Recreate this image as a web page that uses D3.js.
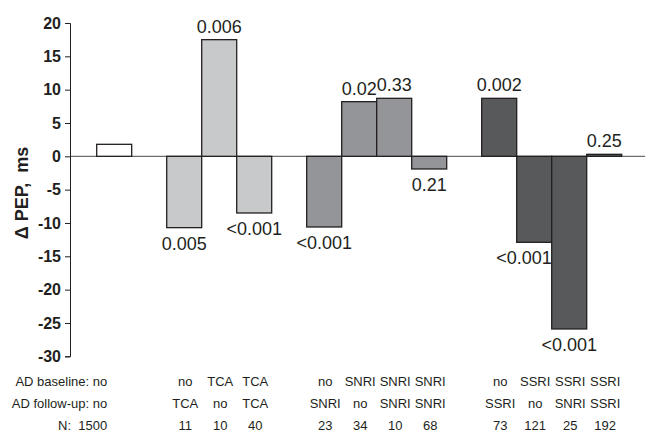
<!DOCTYPE html>
<html>
<head>
<meta charset="utf-8">
<script src="https://cdn.jsdelivr.net/npm/d3@7"></script>
<style>
  body { margin: 0; background: #fff; }
  svg { display: block; font-family: "Liberation Sans", Arial, Helvetica, sans-serif; }
</style>
</head>
<body>
<svg id="chart" width="645" height="433"></svg>
<script>
// one entry per bar, left to right
const groupOf = ['none', 'TCA', 'TCA', 'TCA', 'SNRI', 'SNRI', 'SNRI', 'SNRI', 'SSRI', 'SSRI', 'SSRI', 'SSRI'];
const adBaseline = ['no', 'no', 'TCA', 'TCA', 'no', 'SNRI', 'SNRI', 'SNRI', 'no', 'SSRI', 'SSRI', 'SSRI'];
const adFollowUp = ['no', 'TCA', 'no', 'TCA', 'SNRI', 'no', 'SNRI', 'SNRI', 'SSRI', 'no', 'SNRI', 'SSRI'];
const nCounts = ['1500', '11', '10', '40', '23', '34', '10', '68', '73', '121', '25', '192'];
const deltaPEP = [1.8, -10.7, 17.5, -8.5, -10.6, 8.2, 8.7, -1.9, 8.7, -12.9, -25.9, 0.3];
const pValues = ['', '0.005', '0.006', '<0.001', '<0.001', '0.02', '0.33', '0.21', '0.002', '<0.001', '<0.001', '0.25'];

const groupKeys = ['none', 'TCA', 'SNRI', 'SSRI'];
const yTicks = [20, 15, 10, 5, 0, -5, -10, -15, -20, -25, -30];

const data = deltaPEP.map((v, i) => ({
  id: 'b' + i,
  i: i,
  value: v,
  group: groupOf[i],
  p: pValues[i],
  base: adBaseline[i],
  follow: adFollowUp[i],
  n: nCounts[i]
}));

// slots: bars of each group followed by an empty gap slot
const slots = [];
groupKeys.forEach((g, gi) => {
  data.filter(d => d.group === g).forEach(d => slots.push(d.id));
  if (gi < groupKeys.length - 1) slots.push('gap' + gi);
});

const svg = d3.select('#chart');
const axisX = 70;

const x = d3.scaleBand()
  .domain(slots)
  .range([96.7, 621.7])
  .padding(0);

const y = d3.scaleLinear()
  .domain([-30, 20])
  .range([356.3, 23]);

const fill = d3.scaleOrdinal()
  .domain(groupKeys)
  .range(['#ffffff', '#c8c9cb', '#939598', '#58595b']);

// zero line
svg.append('line')
  .attr('x1', axisX)
  .attr('x2', 645)
  .attr('y1', y(0))
  .attr('y2', y(0))
  .attr('stroke', '#6d6e70')
  .attr('stroke-width', 1.2);

// bars
svg.append('g')
  .selectAll('rect')
  .data(data)
  .enter()
  .append('rect')
    .attr('x', d => x(d.id))
    .attr('width', x.bandwidth())
    .attr('y', d => y(Math.max(0, d.value)))
    .attr('height', d => Math.abs(y(d.value) - y(0)))
    .attr('fill', d => fill(d.group))
    .attr('stroke', '#231f20')
    .attr('stroke-width', 1.3);

// negative label would run into a deeper neighbour: tuck it left
const tucked = d => {
  const next = data[d.i + 1];
  return d.value < 0 && next && next.group === d.group && next.value < d.value;
};

// p-value labels
svg.append('g')
  .selectAll('text')
  .data(data.filter(d => d.p))
  .enter()
  .append('text')
    .attr('font-size', 18)
    .attr('fill', '#231f20')
    .attr('text-anchor', d => tucked(d) ? 'end' : 'middle')
    .attr('x', d => tucked(d) ? x(d.id) + x.bandwidth() : x(d.id) + x.bandwidth() / 2)
    .attr('y', d => d.value >= 0 ? y(d.value) - 7 : y(d.value) + 22)
    .text(d => d.p);

// y axis
const yAxis = svg.append('g')
  .attr('transform', `translate(${axisX},0)`)
  .call(d3.axisLeft(y)
    .tickValues(yTicks)
    .tickSize(5)
    .tickSizeOuter(5)
    .tickPadding(4)
    .tickFormat(d => String(d)));

yAxis.select('.domain').attr('stroke', '#231f20');
yAxis.selectAll('.tick line').attr('stroke', '#231f20');
yAxis.selectAll('.tick text')
  .attr('font-family', '"Liberation Sans", Arial, sans-serif')
  .attr('font-size', 16)
  .attr('font-weight', 'bold')
  .attr('fill', '#231f20');

svg.append('text')
  .attr('transform', `translate(28,${y(-5.5)}) rotate(-90)`)
  .attr('text-anchor', 'middle')
  .attr('font-size', 18)
  .attr('font-weight', 'bold')
  .attr('fill', '#231f20')
  .attr('xml:space', 'preserve')
  .style('white-space', 'pre')
  .text('\u0394 PEP,  ms');

// table under the chart
const rows = [
  { label: 'AD baseline: ', key: 'base', yPos: 386 },
  { label: 'AD follow-up: ', key: 'follow', yPos: 408 },
  { label: 'N:\u00a0\u00a0', key: 'n', yPos: 430 }
];

const table = svg.append('g')
  .attr('font-size', 13)
  .attr('fill', '#231f20');

rows.forEach(r => {
  data.forEach(d => {
    const t = table.append('text').attr('y', r.yPos);
    if (d.i === 0) {
      t.attr('x', x(d.id) + x.bandwidth() / 2 - 7)
        .attr('text-anchor', 'end')
        .text(r.label + d[r.key]);
    } else {
      t.attr('x', x(d.id) + x.bandwidth() / 2 + 1)
        .attr('text-anchor', 'middle')
        .text(d[r.key]);
    }
  });
});
</script>
</body>
</html>
